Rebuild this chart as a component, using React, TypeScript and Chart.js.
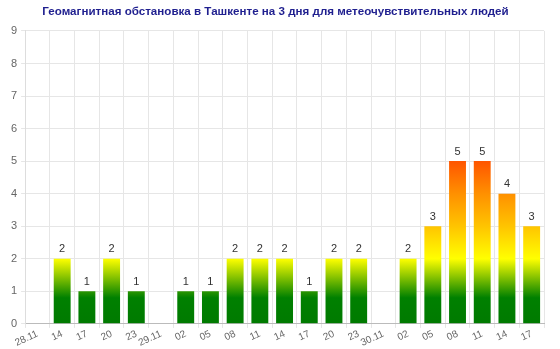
import React, { useEffect, useRef } from "react";
import { Chart, registerables } from "chart.js";

Chart.register(...registerables);

const TITLE = "Геомагнитная обстановка в Ташкенте на 3 дня для метеочувствительных людей";
const categories = [
  "28.11", "14", "17", "20", "23",
  "29.11", "02", "05", "08", "11", "14", "17", "20", "23",
  "30.11", "02", "05", "08", "11", "14", "17",
];
const kpValues: (number | null)[] = [
  null, 2, 1, 2, 1,
  null, 1, 1, 2, 2, 2, 1, 2, 2,
  null, 2, 3, 5, 5, 4, 3,
];
const yTicks = { min: 0, max: 9, step: 1 };
const gradientStops: [number, string][] = [
  [0, "#007a00"],
  [0.8, "#008000"],
  [2, "#ffff00"],
  [3, "#ffc400"],
  [4, "#ff9000"],
  [5, "#ff5500"],
];

const FONT = "'Liberation Sans', Arial, sans-serif";

const valueLabels = {
  id: "valueLabels",
  afterDatasetsDraw(chart: any) {
    const ctx = chart.ctx;
    const meta = chart.getDatasetMeta(0);
    ctx.save();
    ctx.font = `11px ${FONT}`;
    ctx.fillStyle = "#333333";
    ctx.textAlign = "center";
    ctx.textBaseline = "bottom";
    meta.data.forEach((bar: any, i: number) => {
      const v = kpValues[i];
      if (v === null || v === undefined) return;
      ctx.fillText(String(v), bar.x, bar.y - 4);
    });
    ctx.restore();
  },
};

export default function App() {
  const ref = useRef<HTMLCanvasElement | null>(null);
  useEffect(() => {
    document.body.style.margin = "0";
    const canvas = ref.current!;
    const chart = new Chart(canvas, {
      type: "bar",
      data: {
        labels: categories,
        datasets: [
          {
            data: kpValues,
            backgroundColor: (c: any) => {
              const ch = c.chart;
              const ys = ch.scales?.y;
              if (!ys || !ch.chartArea) return "#008000";
              const y0 = ys.getPixelForValue(0);
              const y5 = ys.getPixelForValue(5);
              const g = ch.ctx.createLinearGradient(0, y0, 0, y5);
              gradientStops.forEach(([v, col]) => g.addColorStop(v / 5, col));
              return g;
            },
            borderWidth: 0,
            barPercentage: 0.9,
            categoryPercentage: 0.76,
          },
        ],
      },
      options: {
        responsive: false,
        animation: false,
        layout: { padding: { left: 7, right: 16, top: 0, bottom: 0 } },
        plugins: {
          legend: { display: false },
          tooltip: { enabled: false },
          title: {
            display: true,
            text: TITLE,
            color: "#1f1f8f",
            font: { family: FONT, size: 11.6, weight: "bold" },
            padding: { top: 5, bottom: 12 },
          },
        },
        scales: {
          x: {
            grid: { color: "#e6e6e6", drawTicks: true, tickLength: 4 },
            border: { color: "#bbbbbb" },
            ticks: {
              color: "#666666",
              font: { family: FONT, size: 10 },
              minRotation: 25,
              maxRotation: 25,
              autoSkip: false,
              padding: 0,
            },
          },
          y: {
            min: yTicks.min,
            max: yTicks.max,
            grid: { color: "#e6e6e6", tickLength: 4 },
            border: { color: "#dddddd" },
            ticks: {
              stepSize: yTicks.step,
              color: "#666666",
              font: { family: FONT, size: 11 },
              padding: 4,
            },
          },
        },
      },
      plugins: [valueLabels],
    });
    return () => chart.destroy();
  }, []);
  return (
    <div style={{ width: 560, height: 349 }}>
      <canvas ref={ref} width={560} height={349} />
    </div>
  );
}
